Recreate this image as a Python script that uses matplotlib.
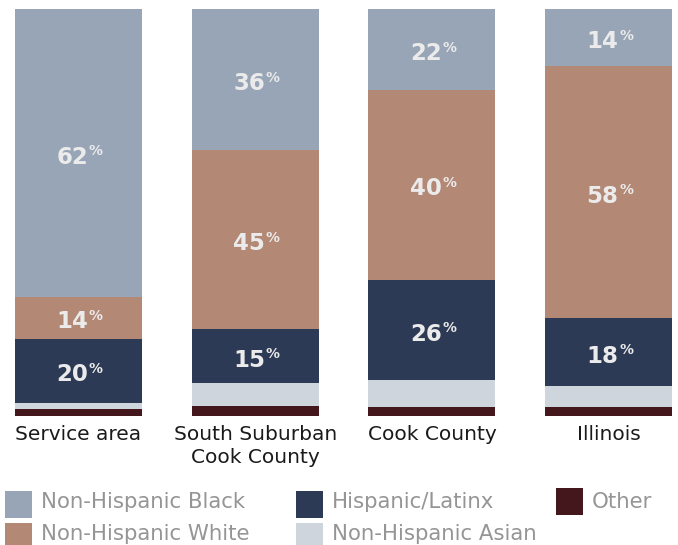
import numpy as np
from matplotlib import pyplot as plt
from matplotlib.patches import Rectangle

plt.rcParams["font.family"] = ["DejaVu Sans"]

W, H = 678, 545

regions = ["Service area", "South Suburban\nCook County", "Cook County", "Illinois"]
groups = ["Non-Hispanic Black", "Non-Hispanic White", "Hispanic/Latinx",
          "Non-Hispanic Asian", "Other"]

# segment shares as drawn in the chart (bottom segments first in stacking)
other = [1.7, 2.4, 2.1, 2.1]
asian = [1.5, 5.7, 6.6, 5.2]
hispanic = [15.7, 13.2, 24.8, 16.7]
white = [10.4, 44.0, 46.7, 62.1]
black = [70.7, 34.7, 19.8, 13.9]

# printed labels
black_lbl = [62, 36, 22, 14]
white_lbl = [14, 45, 40, 58]
hispanic_lbl = [20, 15, 26, 18]

colors = {
    "Non-Hispanic Black": "#98a5b6",
    "Non-Hispanic White": "#b38875",
    "Hispanic/Latinx": "#2d3a55",
    "Non-Hispanic Asian": "#ced5dd",
    "Other": "#43171c",
}

fig = plt.figure(figsize=(W / 100, H / 100), dpi=100)
ax = fig.add_axes([0, (H - 415.7) / H, 1, (415.7 - 9.3) / H])

x = np.arange(len(regions))
spacing = 176.7
width = 127 / spacing

stack = [("Other", other), ("Non-Hispanic Asian", asian), ("Hispanic/Latinx", hispanic),
         ("Non-Hispanic White", white), ("Non-Hispanic Black", black)]
labels = {"Hispanic/Latinx": hispanic_lbl, "Non-Hispanic White": white_lbl,
          "Non-Hispanic Black": black_lbl}

bottom = np.zeros(len(regions))
for name, vals in stack:
    vals = np.array(vals)
    ax.bar(x, vals, width, bottom=bottom, color=colors[name], linewidth=0)
    if name in labels:
        for xi, b, v, lbl in zip(x, bottom, vals, labels[name]):
            yc = b + v / 2
            ax.annotate(str(lbl), (xi, yc), xytext=(7, -3), textcoords="offset points",
                        ha="right", va="center", fontsize=16.5, fontweight="bold",
                        color="#ebebeb")
            ax.annotate("%", (xi, yc), xytext=(7.5, 6.5), textcoords="offset points",
                        ha="left", va="top", fontsize=10, fontweight="bold",
                        color="#ebebeb")
    bottom += vals

ax.set_xlim(-78.5 / spacing, (W - 78.5) / spacing)
ax.set_ylim(0, 100)
ax.set_xticks(x)
ax.set_xticklabels(regions, fontsize=14.5, color="#1a1a1a", linespacing=1.25)
ax.tick_params(axis="x", length=0, pad=7)
ax.set_yticks([])
for s in ax.spines.values():
    s.set_visible(False)

# legend
def fx(px):
    return px / W

def fy(py):
    return 1 - py / H

leg_items = [
    ("Non-Hispanic Black", 5, 491, 502),
    ("Non-Hispanic White", 5, 523, 534),
    ("Hispanic/Latinx", 296, 491, 502),
    ("Non-Hispanic Asian", 296, 523, 534),
    ("Other", 556, 488, 502),
]
for name, px, py, ty in leg_items:
    fig.add_artist(Rectangle((fx(px), fy(py + 26.5)), 27 / W, 26.5 / H,
                             transform=fig.transFigure, color=colors[name], linewidth=0))
    fig.text(fx(px + 36), fy(ty), name,
             fontsize=15.3, color="#959595", ha="left", va="center")

fig.savefig("out.png", dpi=100)
